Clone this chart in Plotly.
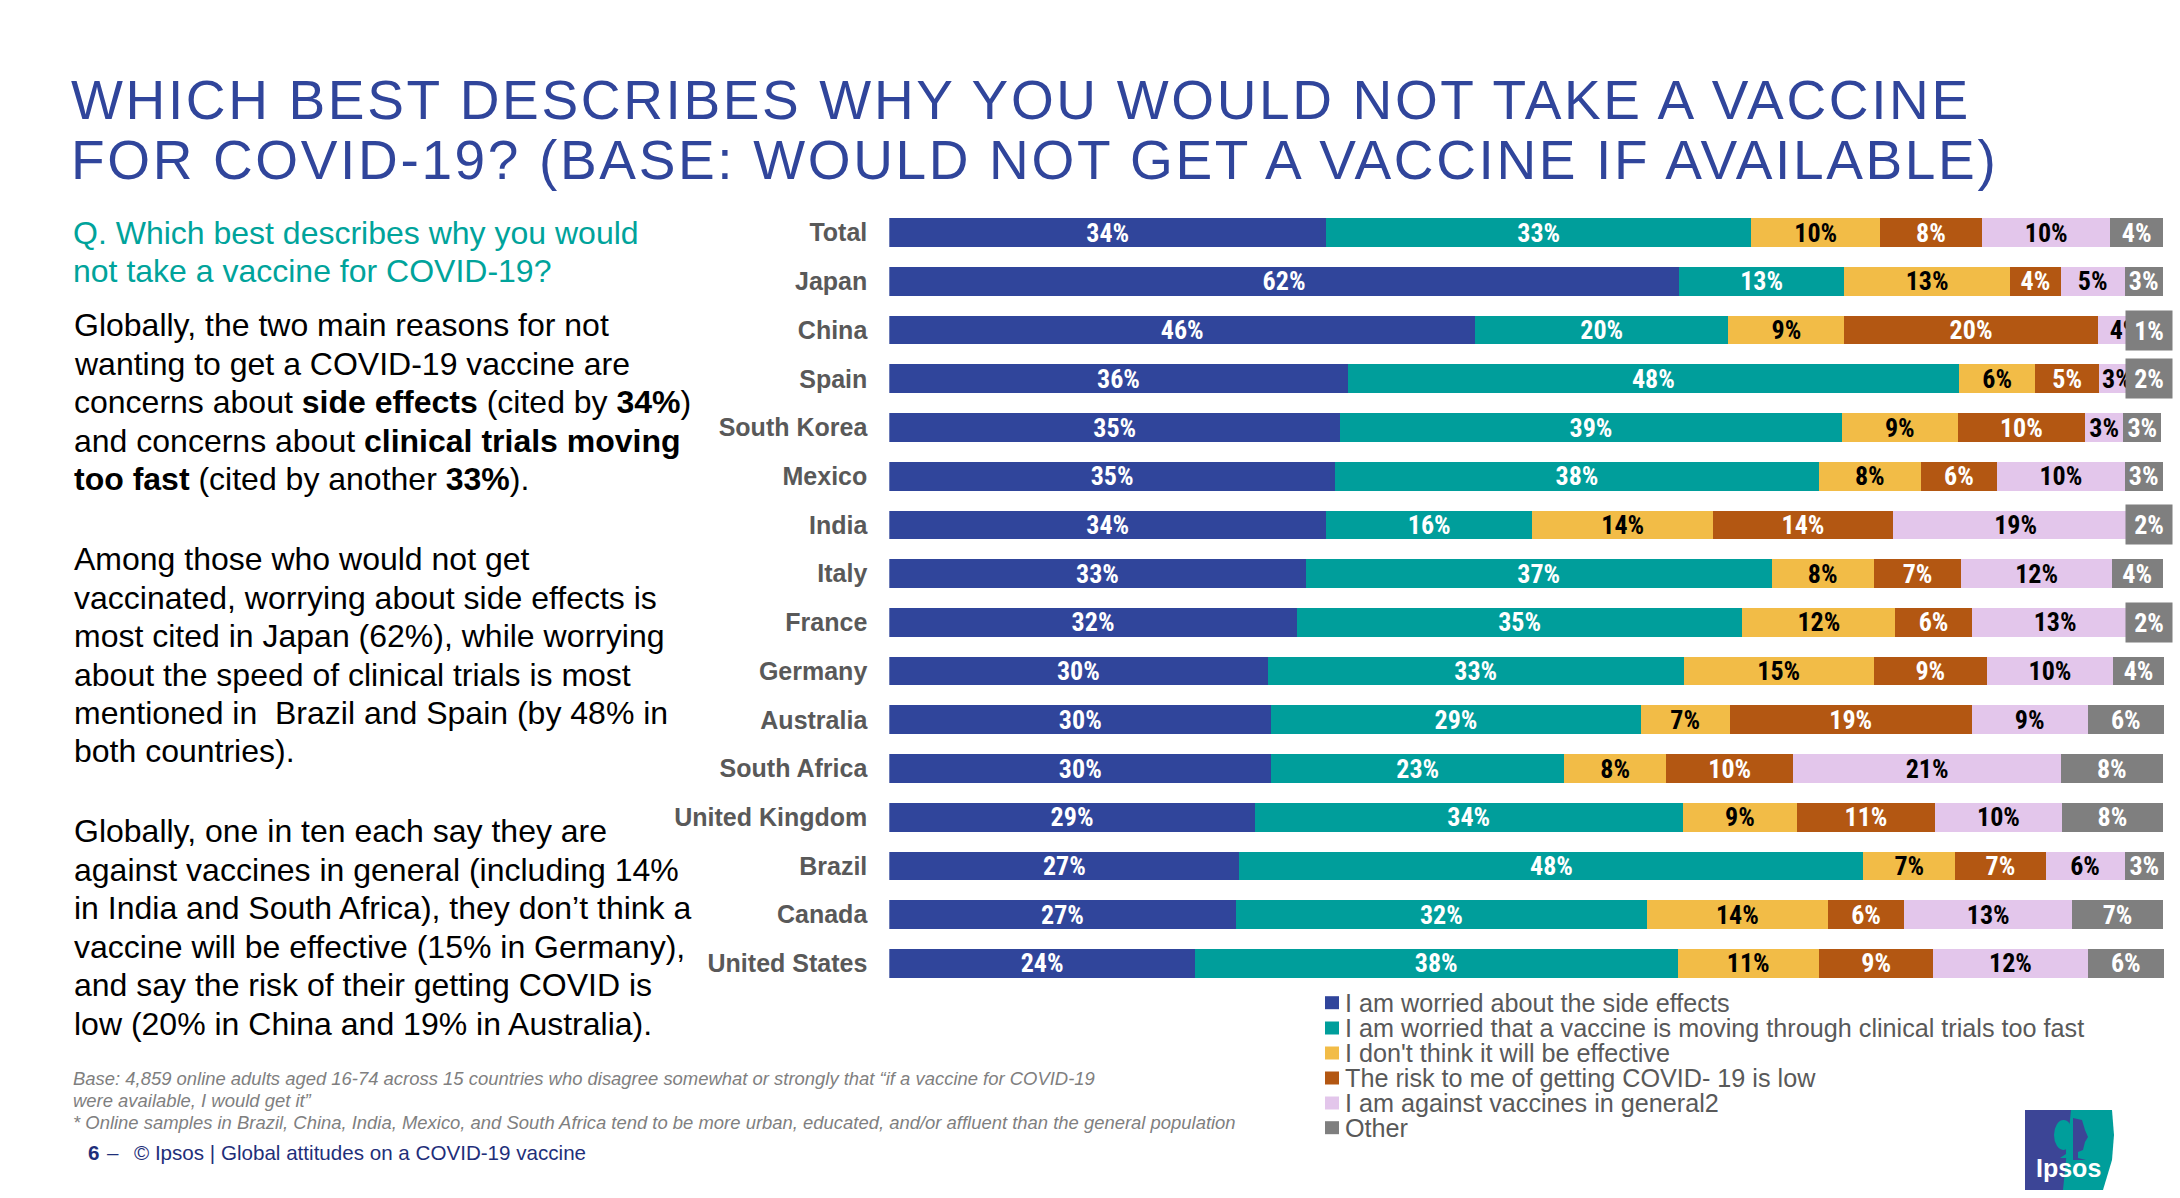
import plotly.graph_objects as go

W, H = 2180, 1198
countries = ["Total","Japan","China","Spain","South Korea","Mexico","India","Italy","France","Germany","Australia","South Africa","United Kingdom","Brazil","Canada","United States"]
series_names = ["I am worried about the side effects",
                "I am worried that a vaccine is moving through clinical trials too fast",
                "I don't think it will be effective",
                "The risk to me of getting COVID- 19 is low",
                "I am against vaccines in general2",
                "Other"]
colors = ["#30459B","#009E9B","#F2BC47","#B35712","#E3C6EB","#7F7F7F"]
label_colors = ["white","white","black","white","black","white"]

side_effects = [34.3,62.0,46.0,36.0,35.4,35.0,34.3,32.7,32.0,29.7,30.0,30.0,28.7,27.5,27.2,24.0]
trials_fast  = [33.4,13.0,19.9,48.0,39.4,38.0,16.2,36.6,35.0,32.7,29.0,23.0,33.6,49.0,32.3,37.9]
not_effective= [10.1,13.0,9.1,6.0,9.1,8.0,14.2,8.0,12.0,14.9,7.0,8.0,9.0,7.2,14.2,11.1]
low_risk     = [8.0,4.0,19.9,5.0,10.0,6.0,14.1,6.9,6.0,8.9,19.0,10.0,10.8,7.1,6.0,9.0]
against      = [10.1,5.0,4.2,2.8,3.0,10.0,19.3,11.8,13.1,9.9,9.1,21.0,10.0,6.2,13.2,12.1]
other        = [4.1,3.0,0.8,2.2,3.0,3.0,2.0,4.0,1.9,4.0,6.0,8.0,7.9,3.1,7.1,6.0]

lbl_side   = [34,62,46,36,35,35,34,33,32,30,30,30,29,27,27,24]
lbl_trials = [33,13,20,48,39,38,16,37,35,33,29,23,34,48,32,38]
lbl_eff    = [10,13,9,6,9,8,14,8,12,15,7,8,9,7,14,11]
lbl_risk   = [8,4,20,5,10,6,14,7,6,9,19,10,11,7,6,9]
lbl_against= [10,5,4,3,3,10,19,12,13,10,9,21,10,6,13,12]
lbl_other  = [4,3,1,2,3,3,2,4,2,4,6,8,8,3,7,6]
boxed_other = ["China","Spain","India","France"]
BOX_X = 98.95
X_MAX = 101

title_lines = ["WHICH BEST DESCRIBES WHY YOU WOULD NOT TAKE A VACCINE",
               "FOR COVID-19? (BASE: WOULD NOT GET A VACCINE IF AVAILABLE)"]
question_lines = ["Q. Which best describes why you would", "not take a vaccine for COVID-19?"]
body_lines = [
 (325,"Globally, the two main reasons for not"),
 (364,"wanting to get a COVID-19 vaccine are"),
 (402,"concerns about <b>side effects</b> (cited by <b>34%</b>)"),
 (441,"and concerns about <b>clinical trials moving</b>"),
 (479,"<b>too fast</b> (cited by another <b>33%</b>)."),
 (559,"Among those who would not get"),
 (597.5,"vaccinated, worrying about side effects is"),
 (636,"most cited in Japan (62%), while worrying"),
 (674.6,"about the speed of clinical trials is most"),
 (712.8,"mentioned in  Brazil and Spain (by 48% in"),
 (751.4,"both countries)."),
 (831,"Globally, one in ten each say they are"),
 (869.5,"against vaccines in general (including 14%"),
 (908,"in India and South Africa), they don’t think a"),
 (946.6,"vaccine will be effective (15% in Germany),"),
 (985,"and say the risk of their getting COVID is"),
 (1023.8,"low (20% in China and 19% in Australia)."),
]
foot_lines = [
 (1078,"Base: 4,859 online adults aged 16-74 across 15 countries who disagree somewhat or strongly that “if a vaccine for COVID-19"),
 (1100,"were available, I would get it”"),
 (1122,"* Online samples in Brazil, China, India, Mexico, and South Africa tend to be more urban, educated, and/or affluent than the general population"),
]

def px(x): return x / W
def py(y): return 1 - y / H

FONT = "Liberation Sans"
LABEL_FONT = "Liberation Sans Narrow, Roboto Condensed, Liberation Sans"
all_vals = [side_effects, trials_fast, not_effective, low_risk, against, other]
all_lbls = [lbl_side, lbl_trials, lbl_eff, lbl_risk, lbl_against, lbl_other]

fig = go.Figure()
for i, name in enumerate(series_names):
    txt = [("" if (i == 5 and c in boxed_other) else f"{v}%") for c, v in zip(countries, all_lbls[i])]
    fig.add_trace(go.Bar(
        y=countries, x=all_vals[i], name=name, orientation="h",
        marker=dict(color=colors[i], line=dict(width=0)),
        text=txt, textposition="inside", insidetextanchor="middle", textangle=0,
        constraintext="none", cliponaxis=False,
        textfont=dict(family=LABEL_FONT, size=26, color=label_colors[i], weight="bold"),
        hoverinfo="x+y", showlegend=False))

ann = []
def text(x, y, s, size, color, anchor="left", **font):
    ann.append(dict(xref="paper", yref="paper", x=px(x), y=py(y), text=s, showarrow=False,
                    xanchor=anchor, yanchor="middle", align=anchor, borderpad=0,
                    font=dict(family=FONT, size=size, color=color, **font)))

for y, s in zip([100, 160], title_lines):
    text(70, y, s, 55, "#30459B")
for y, s in zip([233, 271], question_lines):
    text(72, y, s, 32, "#00A39B")
for y, s in body_lines:
    text(73, y, s, 32, "#000000")
for y, s in foot_lines:
    text(72, y, s, 18.45, "#7F7F7F", style="italic")
text(87, 1152, "<b>6</b>", 20.6, "#1F2F7A")
text(106, 1152, "–", 20.6, "#1F2F7A")
text(133, 1152, "© Ipsos | Global attitudes on a COVID-19 vaccine", 20.6, "#1F2F7A")

for c, v in zip(countries, lbl_other):
    if c in boxed_other:
        ann.append(dict(xref="x", yref="y", x=BOX_X, y=c, text=f"{v}%", showarrow=False,
                        width=46, height=39, bgcolor="#7F7F7F", borderpad=0,
                        font=dict(family=LABEL_FONT, size=26, color="white", weight="bold")))

shapes = []
leg_y = [1002.7, 1028, 1053, 1078, 1103, 1127.7]
for yy, name, col in zip(leg_y, series_names, colors):
    shapes.append(dict(type="rect", xref="paper", yref="paper", x0=px(1325), x1=px(1339),
                       y0=py(yy+6.5), y1=py(yy-6.5), fillcolor=col, line_width=0))
    text(1344, yy, name, 25.2, "#595959")

def path(pts):
    return "M " + " L ".join(f"{px(x):.5f},{py(y):.5f}" for x, y in pts) + " Z"

# Ipsos logo
shapes.append(dict(type="path", xref="paper", yref="paper", fillcolor="#009E9B", line_width=0,
    path=path([(2060,1110),(2112,1110),(2114,1135),(2112,1160),(2103,1190),(2060,1190)])))
shapes.append(dict(type="path", xref="paper", yref="paper", fillcolor="#3C4596", line_width=0,
    path=path([(2025,1110),(2071,1110),(2067,1150),(2063,1190),(2025,1190)])))
shapes.append(dict(type="circle", xref="paper", yref="paper", fillcolor="#009E9B", line_width=0,
    x0=px(2054), x1=px(2073), y0=py(1150), y1=py(1120)))
shapes.append(dict(type="path", xref="paper", yref="paper", fillcolor="#3C4596", line_width=0,
    path=path([(2073,1118),(2082,1120),(2085,1130),(2088,1137),(2085,1142),(2083,1150),(2078,1152),(2078,1158),(2086,1160),(2073,1160)])))
shapes.append(dict(type="path", xref="paper", yref="paper", fillcolor="#009E9B", line_width=0,
    path=path([(2066,1148),(2073,1148),(2073,1158),(2060,1158),(2066,1154)])))
text(2068, 1168, "Ipsos", 25, "white", anchor="center", weight="bold")

PX_PER_PCT = (2162.7 - 889.3) / 100
ROW = 48.72
TOP_CENTER = 232.65
fig.update_layout(
    width=W, height=H, autosize=False, barmode="stack", bargap=1 - 28.7 / ROW,
    margin=dict(l=0, r=0, t=0, b=0), paper_bgcolor="white", plot_bgcolor="white",
    showlegend=False, annotations=ann, shapes=shapes,
    xaxis=dict(domain=[px(889.3), px(889.3 + PX_PER_PCT * X_MAX)], range=[0, X_MAX], visible=False, fixedrange=True),
    yaxis=dict(domain=[py(TOP_CENTER - ROW / 2 + ROW * 16), py(TOP_CENTER - ROW / 2)], autorange="reversed", type="category",
               categoryorder="array", categoryarray=countries,
               showgrid=False, zeroline=False, showline=False,
               ticks="outside", ticklen=16, tickcolor="rgba(0,0,0,0)",
               tickfont=dict(family=FONT, size=25, color="#595959", weight="bold"), fixedrange=True),
)
post = """
document.body.style.margin='0';document.body.style.overflow='hidden';
document.querySelectorAll('.annotation-text').forEach(function(t){
  if(t.textContent.indexOf('WHICH BEST')===0||t.textContent.indexOf('FOR COVID-19?')===0){t.style.letterSpacing='2.65px';}
});
"""
fig.write_html("out.html", config=dict(displayModeBar=False), post_script=post)
